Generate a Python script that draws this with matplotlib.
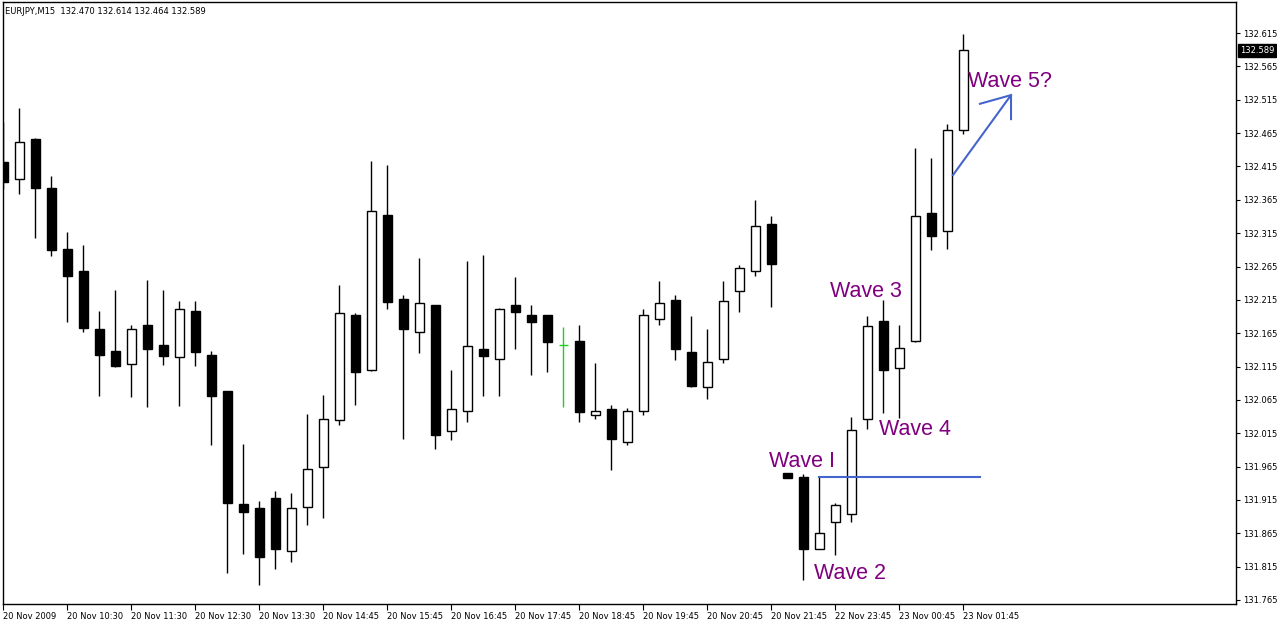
import numpy as np
import matplotlib.pyplot as plt
from matplotlib.transforms import blended_transform_factory

# EURJPY M15 candles (one value per bar)
opens = [132.422, 132.396, 132.456, 132.383, 132.291, 132.258, 132.171, 132.138, 132.119, 132.177,
         132.147, 132.129, 132.198, 132.132, 132.078, 131.909, 131.903, 131.918, 131.839, 131.905,
         131.964, 132.035, 132.192, 132.110, 132.342, 132.216, 132.167, 132.207, 132.018, 132.048,
         132.141, 132.127, 132.207, 132.192, 132.192, 132.147, 132.153, 132.043, 132.052, 132.002,
         132.049, 132.187, 132.215, 132.137, 132.085, 132.126, 132.228, 132.258, 132.329, 131.955,
         131.949, 131.842, 131.882, 131.894, 132.037, 132.184, 132.113, 132.153, 132.345, 132.318,
         132.470]
highs = [132.482, 132.502, 132.457, 132.401, 132.317, 132.297, 132.198, 132.230, 132.177, 132.245,
         132.230, 132.213, 132.213, 132.138, 132.079, 131.999, 131.913, 131.928, 131.925, 132.044,
         132.072, 132.237, 132.195, 132.423, 132.417, 132.222, 132.278, 132.208, 132.110, 132.273,
         132.282, 132.203, 132.250, 132.207, 132.193, 132.174, 132.177, 132.121, 132.058, 132.053,
         132.202, 132.243, 132.222, 132.191, 132.172, 132.243, 132.267, 132.364, 132.340, 131.955,
         131.954, 131.950, 131.911, 132.039, 132.191, 132.215, 132.178, 132.442, 132.428, 132.479,
         132.614]
lows = [132.381, 132.373, 132.308, 132.281, 132.182, 132.167, 132.071, 132.114, 132.070, 132.055,
        132.117, 132.056, 132.116, 131.997, 131.805, 131.834, 131.788, 131.812, 131.822, 131.877,
        131.888, 132.028, 132.057, 132.108, 132.202, 132.007, 132.136, 131.992, 132.005, 132.032,
        132.071, 132.071, 132.141, 132.102, 132.107, 132.055, 132.032, 132.037, 131.960, 131.997,
        132.042, 132.177, 132.125, 132.085, 132.066, 132.121, 132.197, 132.251, 132.204, 131.948,
        131.795, 131.841, 131.832, 131.882, 132.021, 132.046, 132.038, 132.152, 132.290, 132.291,
        132.464]
closes = [132.391, 132.451, 132.382, 132.290, 132.251, 132.173, 132.132, 132.116, 132.172, 132.142,
          132.131, 132.202, 132.137, 132.071, 131.911, 131.897, 131.830, 131.842, 131.903, 131.962,
          132.037, 132.195, 132.107, 132.348, 132.212, 132.172, 132.210, 132.013, 132.052, 132.146,
          132.131, 132.202, 132.197, 132.182, 132.152, 132.147, 132.047, 132.048, 132.007, 132.048,
          132.192, 132.211, 132.141, 132.086, 132.122, 132.213, 132.263, 132.326, 132.269, 131.948,
          131.842, 131.865, 131.908, 132.020, 132.176, 132.110, 132.143, 132.341, 132.311, 132.469,
          132.589]

# one label every 4 bars
time_labels = ['20 Nov 2009', '20 Nov 10:30', '20 Nov 11:30', '20 Nov 12:30', '20 Nov 13:30',
               '20 Nov 14:45', '20 Nov 15:45', '20 Nov 16:45', '20 Nov 17:45', '20 Nov 18:45',
               '20 Nov 19:45', '20 Nov 20:45', '20 Nov 21:45', '22 Nov 23:45', '23 Nov 00:45',
               '23 Nov 01:45']
price_ticks = [131.765, 131.815, 131.865, 131.915, 131.965, 132.015, 132.065, 132.115, 132.165,
               132.215, 132.265, 132.315, 132.365, 132.415, 132.465, 132.515, 132.565, 132.615]

o = np.array(opens)
h = np.array(highs)
l = np.array(lows)
c = np.array(closes)
idx = np.arange(len(o))
up = c > o
down = c < o
flat = c == o

W, H = 1277, 623
fig = plt.figure(figsize=(W / 100, H / 100), dpi=100)
ax = fig.add_axes([3 / W, (H - 604) / H, (1236 - 3) / W, (604 - 2) / H])

# wicks first, bodies on top
ax.vlines(idx[~flat], l[~flat], h[~flat], color='black', lw=1.0, zorder=2)
ax.bar(idx[up], c[up] - o[up], bottom=o[up], width=0.62, facecolor='white',
       edgecolor='black', lw=1.0, zorder=3)
ax.bar(idx[down], o[down] - c[down], bottom=c[down], width=0.62, facecolor='black',
       edgecolor='black', lw=1.0, zorder=3)
# doji drawn in green
ax.vlines(idx[flat], l[flat], h[flat], color='#22cc22', lw=1.0, zorder=3)
ax.hlines(o[flat], idx[flat] - 0.31, idx[flat] + 0.31, color='#22cc22', lw=1.0, zorder=3)

ax.set_xlim(-0.03, (1236 - 3.5) / 16)
ax.set_ylim(131.759, 132.6616)

# axes look of the terminal
for s in ax.spines.values():
    s.set_color('black')
    s.set_linewidth(1.0)
ax.yaxis.tick_right()
ax.set_yticks(price_ticks)
ax.set_yticklabels(['%.3f' % p for p in price_ticks])
ax.set_xticks(idx[::4])
ax.set_xticklabels(time_labels, ha='left')
ax.tick_params(axis='y', direction='out', length=3, width=0.8, labelsize=6, pad=2)
ax.tick_params(axis='x', direction='out', length=4, width=0.8, labelsize=6, pad=2)
for t in ax.get_xticklabels():
    t.set_x(0)

# current price tag
tr = blended_transform_factory(ax.transAxes, ax.transData)
ax.text(1.003, closes[-1], '%.3f' % closes[-1], transform=tr, color='white', fontsize=6,
        va='center', ha='left', bbox=dict(boxstyle='square,pad=0.2', fc='black', ec='black'))

fig.text(5 / W, 1 - 12 / H, 'EURJPY,M15  %.3f %.3f %.3f %.3f' % (opens[-1], highs[-1], lows[-1], closes[-1]),
         fontsize=6, va='center', ha='left')

# Elliott wave marks
wave_font = dict(color='#800080', fontsize=15.5, family='Liberation Sans', ha='left', va='center')
ax.text(47.84, 131.972, 'Wave I', **wave_font)
ax.text(50.66, 131.805, 'Wave 2', **wave_font)
ax.text(51.66, 132.228, 'Wave 3', **wave_font)
ax.text(54.72, 132.020, 'Wave 4', **wave_font)
ax.text(60.28, 132.542, 'Wave 5?', **wave_font)

blue = '#4466cc'
ax.plot([51, 61.03], [131.950, 131.950], color=blue, lw=1.5, zorder=4)
ax.plot([59.34, 62.97], [132.402, 132.522], color=blue, lw=1.5, zorder=4)
ax.plot([61.03, 62.97, 62.97], [132.509, 132.522, 132.486], color=blue, lw=1.5, zorder=4)

plt.savefig('out.png', dpi=100)
